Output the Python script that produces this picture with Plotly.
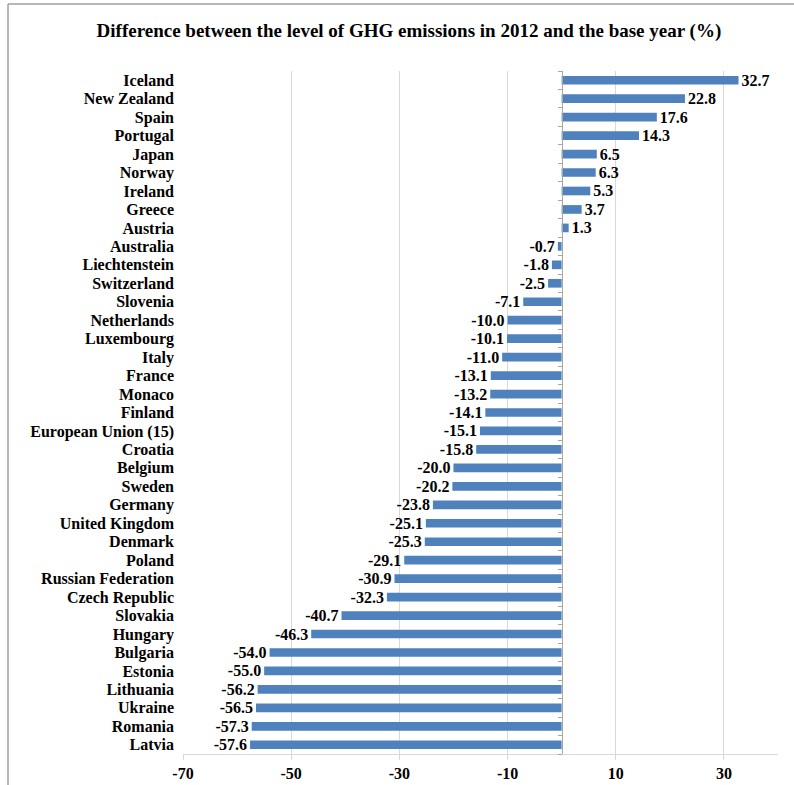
import plotly.graph_objects as go

countries = ["Iceland", "New Zealand", "Spain", "Portugal", "Japan", "Norway", "Ireland",
             "Greece", "Austria", "Australia", "Liechtenstein", "Switzerland", "Slovenia",
             "Netherlands", "Luxembourg", "Italy", "France", "Monaco", "Finland",
             "European Union (15)", "Croatia", "Belgium", "Sweden", "Germany",
             "United Kingdom", "Denmark", "Poland", "Russian Federation", "Czech Republic",
             "Slovakia", "Hungary", "Bulgaria", "Estonia", "Lithuania", "Ukraine",
             "Romania", "Latvia"]
values = [32.7, 22.8, 17.6, 14.3, 6.5, 6.3, 5.3, 3.7, 1.3, -0.7, -1.8, -2.5, -7.1,
          -10.0, -10.1, -11.0, -13.1, -13.2, -14.1, -15.1, -15.8, -20.0, -20.2, -23.8,
          -25.1, -25.3, -29.1, -30.9, -32.3, -40.7, -46.3, -54.0, -55.0, -56.2, -56.5,
          -57.3, -57.6]
x_ticks = [-70, -50, -30, -10, 10, 30]
x_tick_labels = ["-70", "-50", "-30", "-10", "10", "30"]
x_range = [-70, 40]

FONT = "Liberation Serif"
W, H = 794, 785
ML, MR, MT, MB = 183, 16, 71, 31
n = len(countries)
y_range = [n - 0.5, -0.5]

fig = go.Figure()
fig.add_trace(go.Bar(
    y=countries, x=values, orientation="h",
    marker=dict(color="#4f81bd", line=dict(width=0)),
    text=[f"{v:.1f}" for v in values], textposition="outside",
    textfont=dict(family=FONT, size=16, color="black", weight="bold"),
    constraintext="none", cliponaxis=False, width=0.47,
))
# invisible trace for the category axis drawn at zero
fig.add_trace(go.Scatter(y=countries, x=[0] * n, yaxis="y2",
                         mode="none", showlegend=False, hoverinfo="skip"))

zero_pos = (0 - x_range[0]) / (x_range[1] - x_range[0])

fig.update_layout(
    width=W, height=H,
    margin=dict(l=ML, r=MR, t=MT, b=MB, autoexpand=False),
    paper_bgcolor="white", plot_bgcolor="white",
    showlegend=False,
    title=dict(text="Difference between the level of GHG emissions in 2012 and the base year (%)",
               x=0.515, xanchor="center", y=1 - 30 / H, yanchor="middle",
               font=dict(family=FONT, size=19, color="black", weight="bold")),
    xaxis=dict(range=x_range, tickmode="array", tickvals=x_ticks, ticktext=x_tick_labels,
               showgrid=True, gridcolor="#d9d9d9", automargin=False,
               gridwidth=1, zeroline=False, showline=True, linecolor="#d9d9d9",
               ticks="outside", ticklen=5, tickcolor="#d9d9d9",
               tickfont=dict(family=FONT, size=16, color="black", weight="bold")),
    yaxis=dict(range=y_range, autorange=False, showline=False, ticks="", showgrid=False,
               tickmode="array", tickvals=countries, ticktext=countries, automargin=False,
               tickfont=dict(family=FONT, size=16, color="black", weight="bold"),
               ticklabelstandoff=8),
    yaxis2=dict(overlaying="y", anchor="free", position=zero_pos, side="left",
                range=y_range, autorange=False, showticklabels=False, showline=True,
                linecolor="#a6a6a6", ticks="outside", ticklen=4, tickcolor="#a6a6a6",
                tickson="boundaries", showgrid=False, automargin=False,
                tickmode="array", tickvals=countries),
    bargap=0.5,
)

# outer frame
fig.add_shape(type="line", xref="paper", yref="paper",
              x0=(8 - ML) / (W - ML - MR), x1=(W + 5 - ML) / (W - ML - MR),
              y0=(H - 4 - MB) / (H - MT - MB), y1=(H - 4 - MB) / (H - MT - MB),
              line=dict(color="#a0a0a0", width=1.5))
fig.add_shape(type="line", xref="paper", yref="paper",
              x0=(8 - ML) / (W - ML - MR), x1=(8 - ML) / (W - ML - MR),
              y0=(H - 4 - MB) / (H - MT - MB), y1=(-5 - MB) / (H - MT - MB),
              line=dict(color="#a0a0a0", width=1.5))

fig.write_html("out.html")
